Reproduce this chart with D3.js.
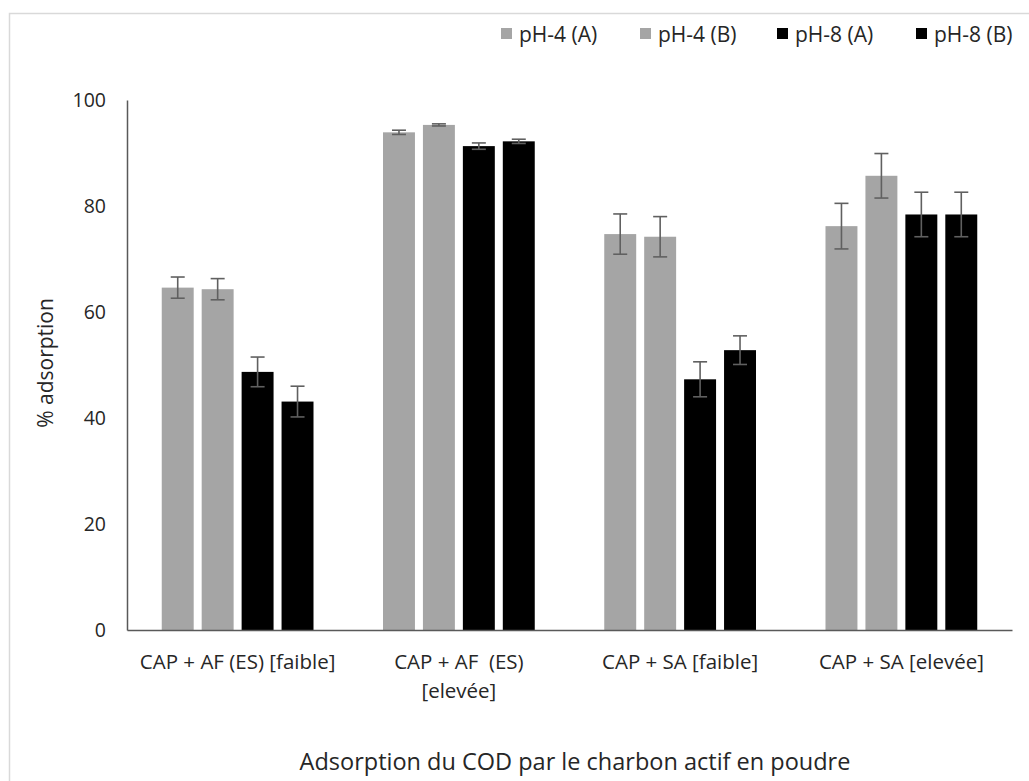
<!DOCTYPE html>
<html><head><meta charset="utf-8">
<script src="https://cdn.jsdelivr.net/npm/d3@7"></script>
<style>body{margin:0;background:#fff}svg{display:block}text{font-family:"Open Sans",sans-serif;fill:#262626}</style>
</head><body><svg id="c" width="1029" height="781"></svg>
<script>
const categories = ["CAP + AF (ES) [faible]", "CAP + AF  (ES) [elevée]", "CAP + SA [faible]", "CAP + SA [elevée]"];
const categoryLines = [["CAP + AF (ES) [faible]"], ["CAP + AF  (ES)", "[elevée]"], ["CAP + SA [faible]"], ["CAP + SA [elevée]"]];
const seriesNames = ["pH-4 (A)", "pH-4 (B)", "pH-8 (A)", "pH-8 (B)"];
const seriesColors = ["#a5a5a5", "#a5a5a5", "#000000", "#000000"];
const pH4A = [64.6, 93.9, 74.7, 76.2];
const pH4B = [64.3, 95.3, 74.2, 85.7];
const pH8A = [48.7, 91.3, 47.3, 78.4];
const pH8B = [43.1, 92.2, 52.8, 78.4];
const pH4A_err = [2.0, 0.4, 3.8, 4.3];
const pH4B_err = [2.0, 0.2, 3.8, 4.2];
const pH8A_err = [2.8, 0.6, 3.3, 4.2];
const pH8B_err = [2.9, 0.4, 2.7, 4.2];
const yTicks = [0, 20, 40, 60, 80, 100];
const yTitle = "% adsorption";
const xTitle = "Adsorption du COD par le charbon actif en poudre";

const values = [pH4A, pH4B, pH8A, pH8B];
const errs = [pH4A_err, pH4B_err, pH8A_err, pH8B_err];

const svg = d3.select("#c");
svg.append("rect").attr("x", 9.5).attr("y", 13.5).attr("width", 1040).attr("height", 800)
  .attr("fill", "none").attr("stroke", "#d9d9d9").attr("stroke-width", 1.5);

const L = 127, R = 1012, T = 100, B = 630;
const x0 = d3.scaleBand().domain(categories).range([L, R]).padding(0);
const x1 = d3.scaleBand().domain(seriesNames).range([0, x0.bandwidth()]).paddingInner(0.2).paddingOuter(0.87);
const y = d3.scaleLinear().domain([0, 100]).range([B, T]);

const data = [];
categories.forEach((c, i) => seriesNames.forEach((s, j) => data.push({c, s, j, v: values[j][i], e: errs[j][i]})));

svg.append("g").selectAll("rect").data(data).join("rect")
  .attr("x", d => x0(d.c) + x1(d.s)).attr("width", x1.bandwidth())
  .attr("y", d => y(d.v)).attr("height", d => y(0) - y(d.v))
  .attr("fill", d => seriesColors[d.j]);

const eg = svg.append("g").attr("stroke", "#606060").attr("stroke-width", 1.6);
data.forEach(d => {
  const cx = x0(d.c) + x1(d.s) + x1.bandwidth() / 2;
  eg.append("line").attr("x1", cx).attr("x2", cx).attr("y1", y(d.v + d.e)).attr("y2", y(d.v - d.e));
  eg.append("line").attr("x1", cx - 7).attr("x2", cx + 7).attr("y1", y(d.v + d.e)).attr("y2", y(d.v + d.e));
  eg.append("line").attr("x1", cx - 7).attr("x2", cx + 7).attr("y1", y(d.v - d.e)).attr("y2", y(d.v - d.e));
});

const ya = svg.append("g").attr("transform", `translate(${L},0)`)
  .call(d3.axisLeft(y).tickValues(yTicks).tickSize(0).tickPadding(21));
ya.select(".domain").attr("stroke", "#595959").attr("stroke-width", 1.5);
ya.selectAll("text").style("font-size", "19.5px").attr("fill", "#262626");

const xa = svg.append("g").attr("transform", `translate(0,${B})`)
  .call(d3.axisBottom(x0).tickSize(0).tickFormat(""));
xa.select(".domain").attr("stroke", "#595959").attr("stroke-width", 1.5);

categories.forEach((c, i) => {
  const cx = x0(c) + x0.bandwidth() / 2;
  categoryLines[i].forEach((ln, k) => {
    svg.append("text").attr("x", cx).attr("y", 669 + k * 29).attr("text-anchor", "middle")
      .style("font-size", "20.5px").style("white-space", "pre").text(ln);
  });
});

svg.append("text").attr("transform", "translate(53,363) rotate(-90)").attr("text-anchor", "middle")
  .style("font-size", "21px").text(yTitle);
svg.append("text").attr("x", 575).attr("y", 770).attr("text-anchor", "middle")
  .style("font-size", "23.5px").text(xTitle);

const legX = [501, 640, 777, 916];
seriesNames.forEach((s, j) => {
  svg.append("rect").attr("x", legX[j]).attr("y", 28).attr("width", 11).attr("height", 11).attr("fill", seriesColors[j]);
  svg.append("text").attr("x", legX[j] + 18).attr("y", 42).style("font-size", "21px").text(s);
});
</script></body></html>
